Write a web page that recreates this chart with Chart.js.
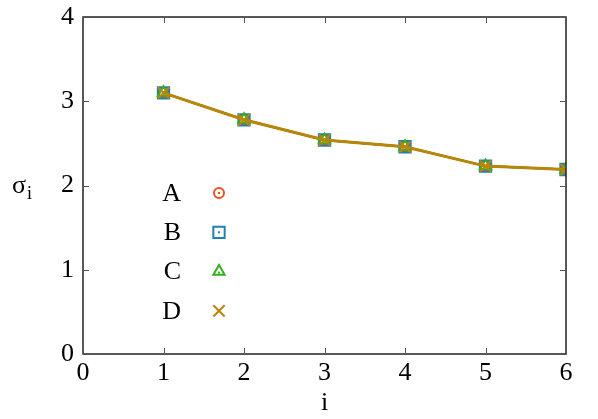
<!DOCTYPE html>
<html>
<head>
<meta charset="utf-8">
<script src="https://cdn.jsdelivr.net/npm/chart.js@4.4.1/dist/chart.umd.min.js"></script>
<style>
  html, body { margin: 0; padding: 0; background: #fff; }
  #wrap { width: 598px; height: 419px; position: relative; }
</style>
</head>
<body>
<div id="wrap"><canvas id="c"></canvas></div>
<script>
// data
const xs = [1, 2, 3, 4, 5, 6];
const sigmaA = [3.10, 2.78, 2.54, 2.46, 2.23, 2.19];
const sigmaB = [3.10, 2.78, 2.54, 2.46, 2.23, 2.19];
const sigmaC = [3.10, 2.78, 2.54, 2.46, 2.23, 2.19];
const sigmaD = [3.10, 2.78, 2.54, 2.46, 2.23, 2.19];
const seriesNames = ['A', 'B', 'C', 'D'];
const xTicks = [0, 1, 2, 3, 4, 5, 6];
const yTicks = [0, 1, 2, 3, 4];

const FONT = '"Liberation Serif", "Times New Roman", serif';
const colA = '#f0501a', colB = '#1f80b4', colC = '#33b01a', colD = '#b8860b';

const pts = arr => xs.map((x, i) => ({ x, y: arr[i] }));

// gnuplot-style frame with inward ticks on all four sides + axis titles
const framePlugin = {
  id: 'frame',
  afterDraw(chart) {
    const { ctx, chartArea: a, scales: { x, y } } = chart;
    ctx.save();
    ctx.strokeStyle = '#222';
    ctx.lineWidth = 1.5;
    ctx.strokeRect(a.left, a.top, a.right - a.left, a.bottom - a.top);
    ctx.lineWidth = 1;
    ctx.strokeStyle = '#555';
    const tl = 6;
    xTicks.forEach(v => {
      const px = Math.round(x.getPixelForValue(v)) + 0.5;
      ctx.beginPath();
      ctx.moveTo(px, a.bottom); ctx.lineTo(px, a.bottom - tl);
      ctx.moveTo(px, a.top); ctx.lineTo(px, a.top + tl);
      ctx.stroke();
    });
    yTicks.forEach(v => {
      const py = Math.round(y.getPixelForValue(v)) + 0.5;
      ctx.beginPath();
      ctx.moveTo(a.left, py); ctx.lineTo(a.left + tl, py);
      ctx.moveTo(a.right, py); ctx.lineTo(a.right - tl, py);
      ctx.stroke();
    });
    // axis titles
    ctx.fillStyle = '#000';
    ctx.font = '26px ' + FONT;
    ctx.textAlign = 'center';
    ctx.textBaseline = 'alphabetic';
    ctx.fillText('i', (a.left + a.right) / 2, 410);
    ctx.textAlign = 'left';
    ctx.fillText('σ', 12, 193);
    ctx.font = '18px ' + FONT;
    ctx.fillText('i', 27, 199);
    ctx.restore();
  }
};

// key inside the plot: label + hollow marker sample with centre dot
const keyPlugin = {
  id: 'key',
  afterDraw(chart) {
    const { ctx } = chart;
    const styles = chart.data.datasets.slice().sort((p, q) => p.key - q.key);
    ctx.save();
    styles.forEach((ds, i) => {
      const yy = 193 + i * 39.3;
      ctx.fillStyle = '#000';
      ctx.font = '26px ' + FONT;
      ctx.textAlign = 'right';
      ctx.textBaseline = 'middle';
      ctx.fillText(seriesNames[ds.key], 181, yy + 1);
      ctx.strokeStyle = ds.borderColor;
      ctx.fillStyle = 'rgba(0,0,0,0)';
      ctx.lineWidth = 2;
      Chart.helpers.drawPoint(ctx, { pointStyle: ds.pointStyle, radius: ds.pointRadius, borderWidth: 2 }, 219, yy);
      ctx.fillStyle = ds.borderColor;
      if (ds.pointStyle !== 'crossRot') ctx.fillRect(218, yy - 1 + (ds.pointStyle === 'triangle' ? 1 : 0), 2, 2);
    });
    ctx.restore();
  }
};

const common = { showLine: true, borderWidth: 2, pointBorderWidth: 2, backgroundColor: 'rgba(0,0,0,0)', pointBackgroundColor: 'rgba(0,0,0,0)' };

new Chart(document.getElementById('c'), {
  type: 'scatter',
  data: {
    datasets: [
      { ...common, key: 3, order: 0, label: 'D', data: pts(sigmaD), borderColor: colD, pointBorderColor: colD, pointStyle: 'crossRot', pointRadius: 8, borderWidth: 3 },
      { ...common, key: 2, order: 1, label: 'C', data: pts(sigmaC), borderColor: colC, pointBorderColor: colC, pointStyle: 'triangle', pointRadius: 6.5 },
      { ...common, key: 1, order: 2, label: 'B', data: pts(sigmaB), borderColor: colB, pointBorderColor: colB, pointStyle: 'rect', pointRadius: 8 },
      { ...common, key: 0, order: 3, label: 'A', data: pts(sigmaA), borderColor: colA, pointBorderColor: colA, pointStyle: 'circle', pointRadius: 5 }
    ]
  },
  options: {
    responsive: true, maintainAspectRatio: false, animation: false,
    layout: { padding: { top: 17, right: 32, left: 0, bottom: 0 } },
    plugins: { legend: { display: false }, tooltip: { enabled: false } },
    scales: {
      x: {
        type: 'linear', min: 0, max: 6,
        afterBuildTicks: s => { s.ticks = xTicks.map(v => ({ value: v })); },
        afterFit: s => { s.height = 65; },
        grid: { display: false, drawTicks: false }, border: { display: false },
        ticks: { color: '#000', padding: 4, font: { family: FONT, size: 26 } }
      },
      y: {
        min: 0, max: 4,
        afterBuildTicks: s => { s.ticks = yTicks.map(v => ({ value: v })); },
        afterFit: s => { s.width = 83; },
        grid: { display: false, drawTicks: false }, border: { display: false },
        ticks: { color: '#000', padding: 9, font: { family: FONT, size: 26, lineHeight: 0.6 } }
      }
    }
  },
  plugins: [framePlugin, keyPlugin]
});
</script>
</body>
</html>
